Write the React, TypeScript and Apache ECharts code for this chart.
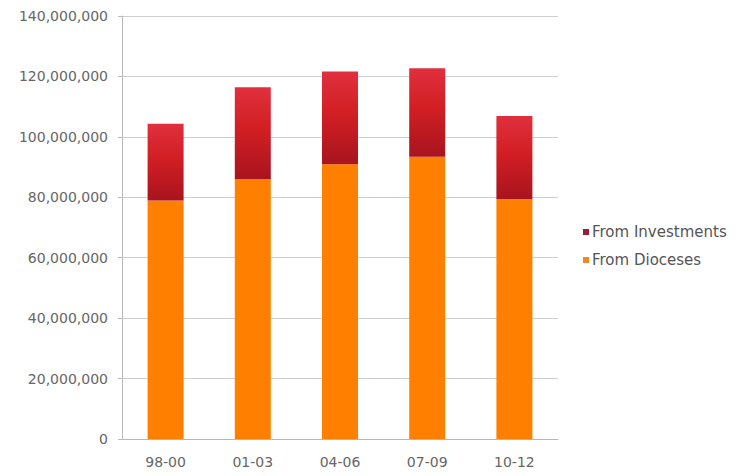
import React, { useEffect, useRef } from "react";
import * as echarts from "echarts";

const categories = ["98-00", "01-03", "04-06", "07-09", "10-12"];
const fromDioceses = [78900000, 86000000, 90900000, 93400000, 79400000];
const fromInvestments = [25400000, 30400000, 30700000, 29300000, 27500000];

const FONT = "DejaVu Sans, Verdana, sans-serif";

export default function App() {
  const ref = useRef<HTMLDivElement>(null);

  useEffect(() => {
    if (!ref.current) return;
    const chart = echarts.init(ref.current, null, { renderer: "svg" });
    chart.setOption({
      animation: false,
      backgroundColor: "#ffffff",
      textStyle: { fontFamily: FONT },
      legend: {
        orient: "vertical",
        left: 583,
        top: 224,
        itemWidth: 6,
        itemHeight: 6,
        itemGap: 12,
        icon: "rect",
        padding: 0,
        data: [
          { name: "From Investments", itemStyle: { color: "#9b1a3e" } },
          { name: "From Dioceses", itemStyle: { color: "#f08a1c" } },
        ],
        textStyle: {
          fontFamily: FONT,
          fontSize: 15,
          lineHeight: 16,
          color: "#555",
          padding: [0, 0, 0, -2],
        },
      },
      grid: { left: 122, right: 178, top: 16, bottom: 37, containLabel: false },
      xAxis: {
        type: "category",
        data: categories,
        axisLine: { lineStyle: { color: "#b8b8b8" } },
        axisTick: { show: false },
        axisLabel: { fontFamily: FONT, fontSize: 14, color: "#666", margin: 16 },
      },
      yAxis: {
        type: "value",
        min: 0,
        max: 140000000,
        interval: 20000000,
        axisLine: { show: true, lineStyle: { color: "#b8b8b8" } },
        axisTick: { show: true, length: 4, lineStyle: { color: "#b8b8b8" } },
        splitLine: { lineStyle: { color: "#cfcfcf" } },
        axisLabel: {
          fontFamily: FONT,
          fontSize: 14,
          color: "#666",
          margin: 14,
          formatter: (v: number) => v.toLocaleString("en-US"),
        },
      },
      series: [
        {
          name: "From Dioceses",
          type: "bar",
          stack: "total",
          barWidth: 36,
          data: fromDioceses,
          itemStyle: { color: "#ff8000" },
        },
        {
          name: "From Investments",
          type: "bar",
          stack: "total",
          barWidth: 36,
          data: fromInvestments,
          itemStyle: {
            color: new echarts.graphic.LinearGradient(0, 0, 0, 1, [
              { offset: 0, color: "#e0303e" },
              { offset: 0.45, color: "#d21f24" },
              { offset: 1, color: "#a8141f" },
            ]),
          },
        },
      ],
    });
    return () => chart.dispose();
  }, []);

  return <div ref={ref} style={{ width: 736, height: 476, margin: -8 }} />;
}
